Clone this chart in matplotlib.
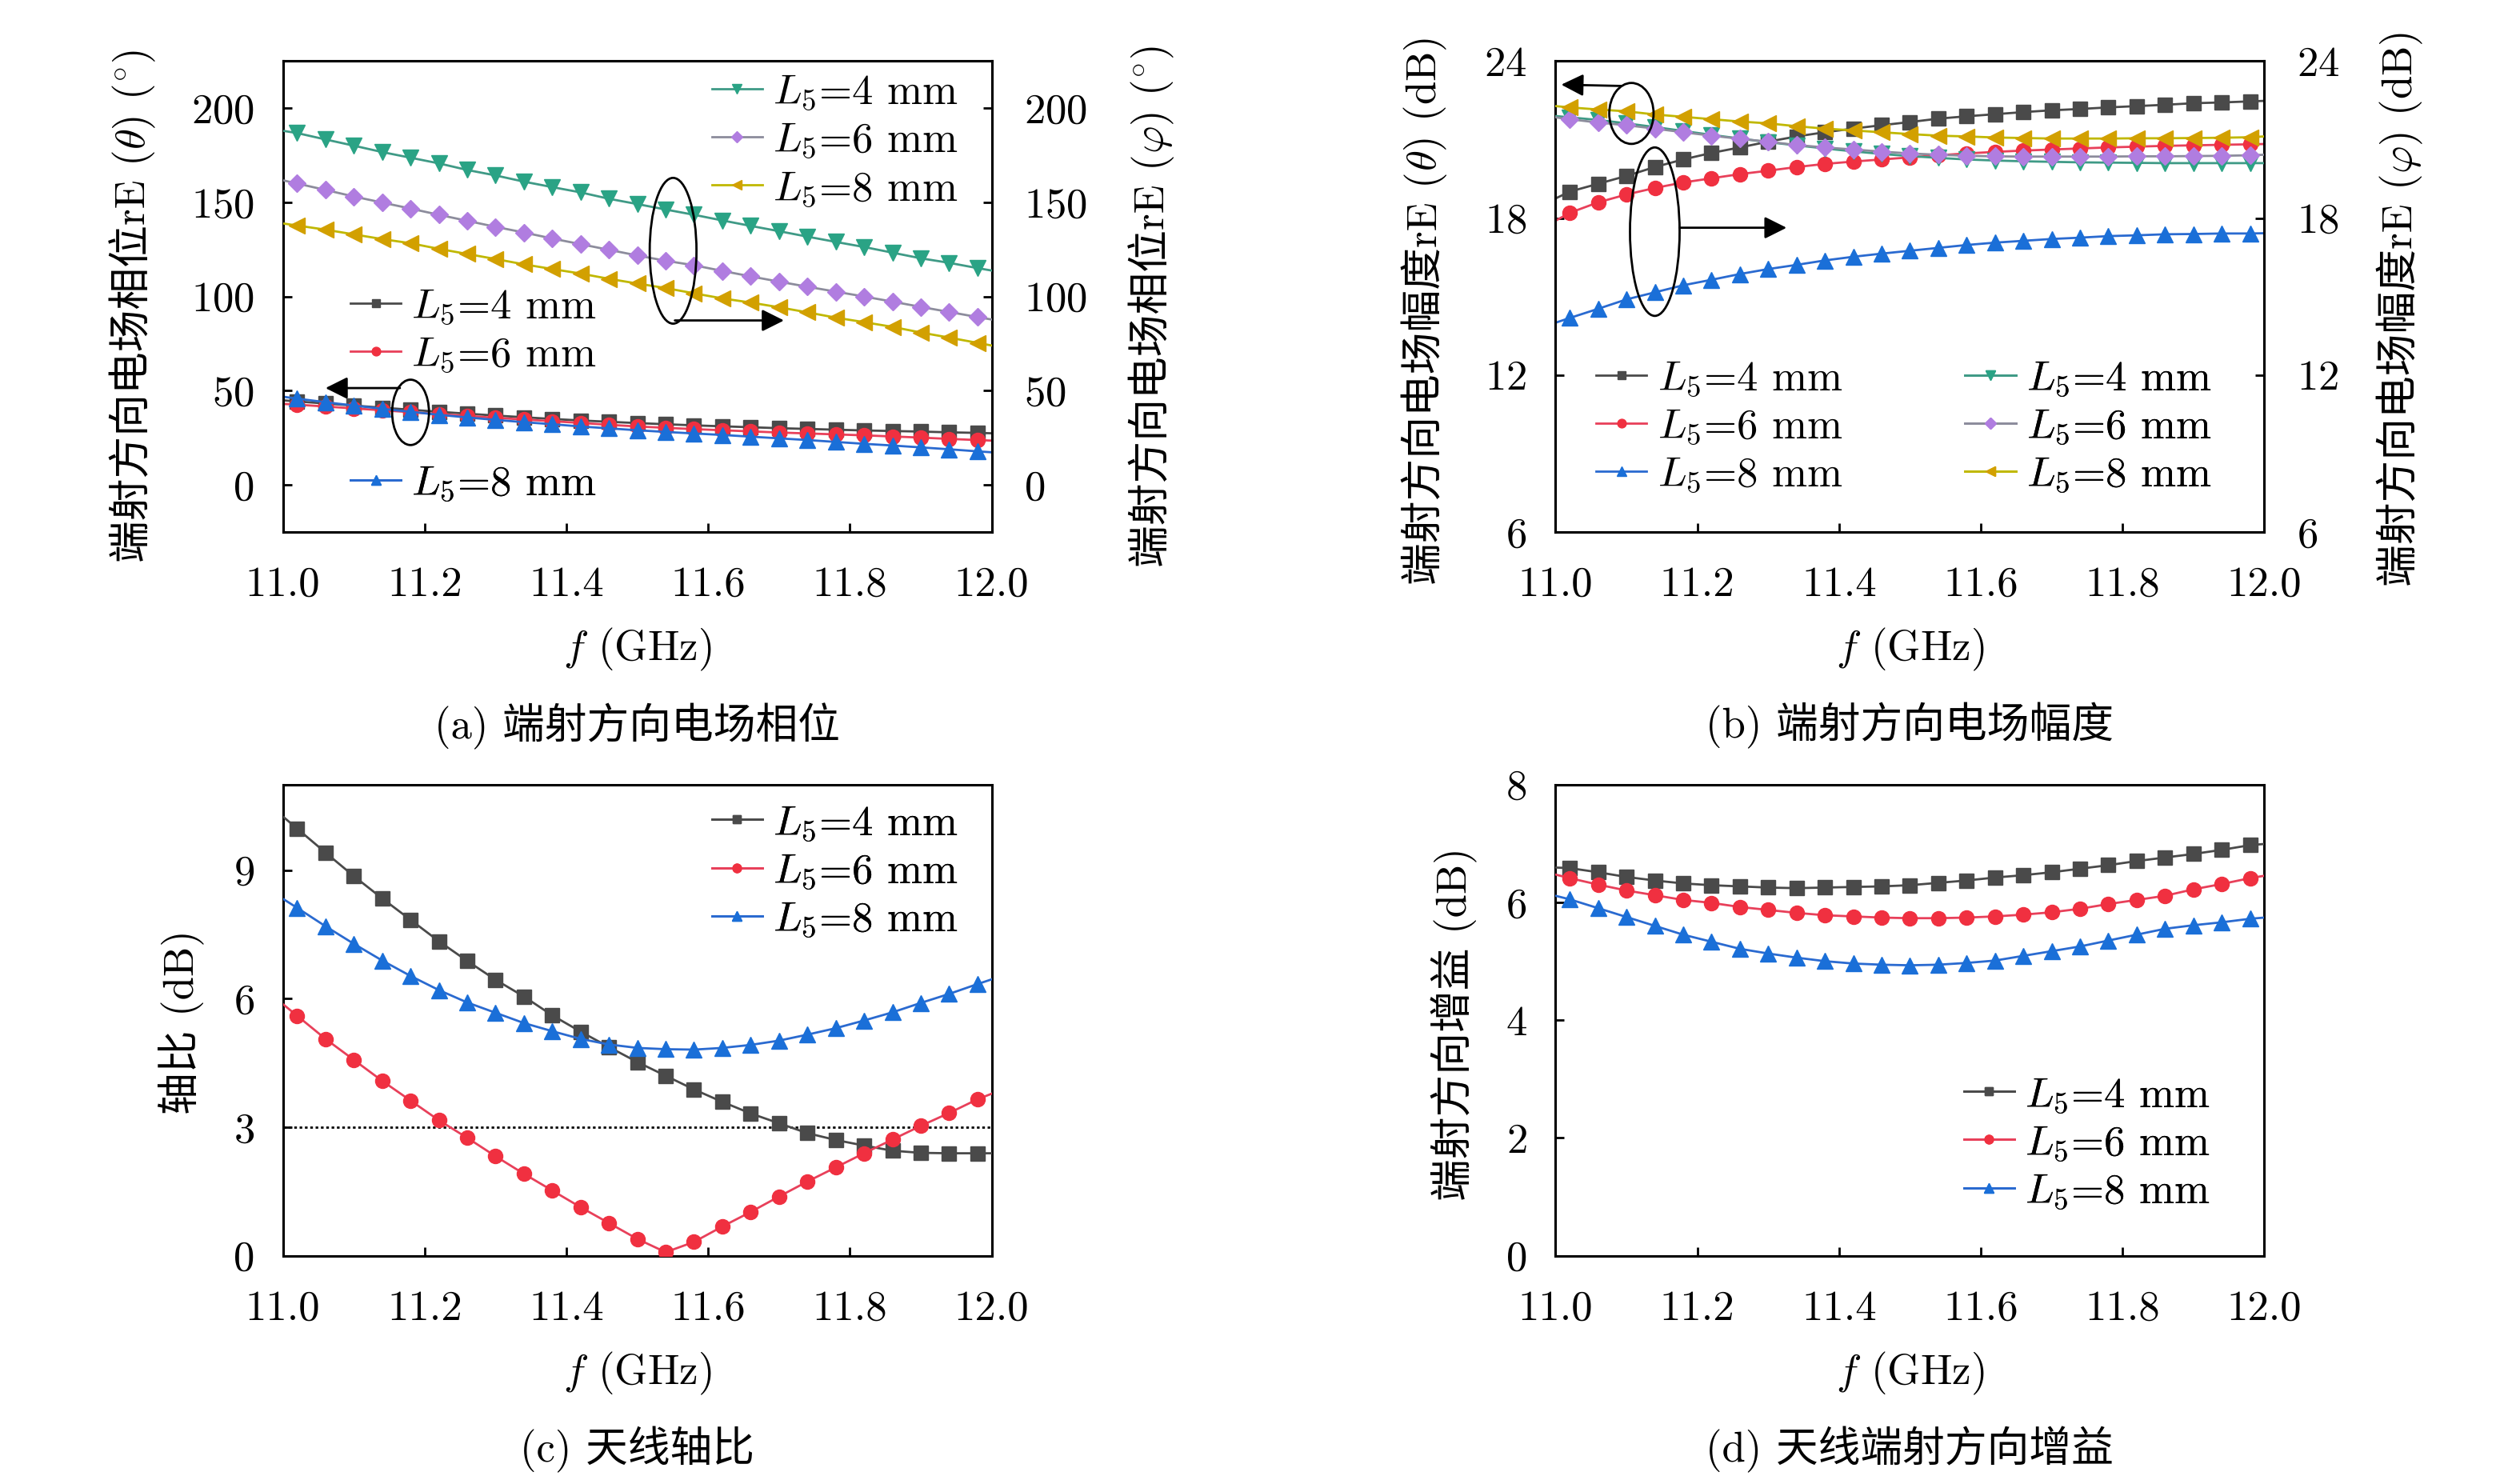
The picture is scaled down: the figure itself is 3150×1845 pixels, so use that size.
"""Endfire field phase / amplitude, axial ratio and gain vs frequency for L5 = 4, 6, 8 mm."""
import matplotlib
matplotlib.use("Agg")
import matplotlib.pyplot as plt
from matplotlib.patches import Ellipse
from matplotlib.ticker import FormatStrFormatter, MultipleLocator

plt.rcParams['font.family'] = ['cmr10', 'Noto Sans CJK SC', 'DejaVu Sans']
plt.rcParams['mathtext.fontset'] = 'cm'
plt.rcParams['axes.formatter.use_mathtext'] = True
plt.rcParams['axes.unicode_minus'] = False

# frequency points (GHz): band edges + sampled points
freq = [11.00, 11.02, 11.06, 11.10, 11.14, 11.18, 11.22, 11.26, 11.30, 11.34,
        11.38, 11.42, 11.46, 11.50, 11.54, 11.58, 11.62, 11.66, 11.70, 11.74,
        11.78, 11.82, 11.86, 11.90, 11.94, 11.98, 12.00]

labels = [r'$L_5$=4 mm', r'$L_5$=6 mm', r'$L_5$=8 mm']

# (a) phase, theta component (left axis)
phase_t_4 = [44.9, 44.3, 43.2, 42.1, 41.0, 39.9, 38.8, 37.8, 36.8, 35.9, 35.0, 34.2, 33.5, 32.8,
             32.2, 31.6, 31.1, 30.6, 30.1, 29.7, 29.3, 28.9, 28.6, 28.3, 27.9, 27.6, 27.4]
phase_t_6 = [43.0, 42.6, 41.6, 40.6, 39.6, 38.6, 37.6, 36.6, 35.6, 34.7, 33.8, 32.9, 31.9, 31.0,
             30.3, 29.6, 29.0, 28.4, 27.8, 27.3, 26.8, 26.3, 25.7, 25.1, 24.4, 23.8, 23.5]
phase_t_8 = [46.8, 45.8, 43.9, 42.1, 40.4, 38.8, 37.2, 35.8, 34.5, 33.3, 32.2, 31.0, 30.0, 29.0,
             28.1, 27.3, 26.5, 25.6, 24.7, 23.8, 22.8, 21.8, 20.9, 19.9, 18.9, 17.8, 17.3]
# (a) phase, phi component (right axis)
phase_p_4 = [188.0, 186.8, 183.4, 180.1, 176.7, 173.7, 170.7, 167.2, 164.3, 161.0, 158.1, 155.3,
             151.9, 149.1, 146.2, 143.4, 140.4, 137.5, 134.7, 131.8, 129.0, 126.3, 123.3, 120.3,
             117.9, 115.1, 113.8]
phase_p_6 = [161.7, 160.0, 156.6, 153.1, 149.9, 146.7, 143.4, 140.2, 137.0, 134.0, 130.8, 127.8,
             124.8, 121.8, 119.0, 116.6, 113.6, 110.7, 107.9, 105.2, 102.6, 100.0, 97.3, 94.5,
             91.8, 89.1, 87.8]
phase_p_8 = [138.8, 137.7, 135.5, 133.0, 130.5, 128.3, 125.3, 122.6, 119.9, 117.1, 114.6, 112.2,
             109.4, 106.9, 104.5, 101.7, 99.0, 96.8, 94.3, 91.6, 88.8, 86.4, 83.9, 80.9,
             78.2, 75.4, 74.0]

# (b) amplitude (dB)
amp_t_4 = [18.75, 19.01, 19.31, 19.61, 19.95, 20.24, 20.49, 20.70, 20.92, 21.12, 21.28, 21.42, 21.55,
           21.67, 21.80, 21.89, 21.97, 22.05, 22.12, 22.17, 22.23, 22.28, 22.33, 22.39, 22.42, 22.46, 22.48]
amp_t_6 = [17.90, 18.20, 18.60, 18.90, 19.15, 19.36, 19.52, 19.68, 19.81, 19.95, 20.07, 20.16, 20.24,
           20.32, 20.40, 20.47, 20.53, 20.58, 20.62, 20.66, 20.70, 20.73, 20.76, 20.78, 20.80, 20.82, 20.83]
amp_t_8 = [14.00, 14.18, 14.53, 14.89, 15.16, 15.43, 15.64, 15.86, 16.05, 16.21, 16.38, 16.52, 16.64,
           16.75, 16.86, 16.97, 17.06, 17.13, 17.20, 17.25, 17.31, 17.34, 17.38, 17.39, 17.41, 17.41, 17.42]
amp_p_4 = [21.90, 21.85, 21.75, 21.62, 21.48, 21.33, 21.18, 21.04, 20.90, 20.78, 20.66, 20.55, 20.45,
           20.37, 20.30, 20.24, 20.20, 20.17, 20.15, 20.13, 20.12, 20.11, 20.10, 20.10, 20.10, 20.10, 20.10]
amp_p_6 = [21.85, 21.78, 21.65, 21.55, 21.42, 21.28, 21.15, 21.03, 20.92, 20.79, 20.70, 20.62, 20.54,
           20.47, 20.42, 20.38, 20.36, 20.35, 20.35, 20.35, 20.35, 20.36, 20.36, 20.37, 20.38, 20.40, 20.42]
amp_p_8 = [22.28, 22.23, 22.15, 22.08, 21.96, 21.87, 21.78, 21.69, 21.62, 21.51, 21.42, 21.35, 21.28,
           21.21, 21.15, 21.12, 21.08, 21.06, 21.04, 21.04, 21.04, 21.05, 21.05, 21.06, 21.07, 21.09, 21.12]

# (c) axial ratio (dB)
ar_4 = [10.25, 9.97, 9.41, 8.86, 8.34, 7.84, 7.34, 6.88, 6.44, 6.05, 5.61, 5.23, 4.87, 4.52,
        4.20, 3.88, 3.59, 3.32, 3.09, 2.86, 2.70, 2.57, 2.45, 2.40, 2.39, 2.39, 2.39]
ar_6 = [5.87, 5.60, 5.06, 4.57, 4.08, 3.62, 3.16, 2.75, 2.32, 1.91, 1.52, 1.13, 0.76, 0.39,
        0.08, 0.32, 0.68, 1.02, 1.38, 1.73, 2.06, 2.39, 2.71, 3.03, 3.33, 3.65, 3.78]
ar_8 = [8.33, 8.12, 7.69, 7.28, 6.89, 6.53, 6.20, 5.91, 5.67, 5.43, 5.24, 5.06, 4.93, 4.85,
        4.82, 4.81, 4.85, 4.92, 5.02, 5.16, 5.31, 5.49, 5.68, 5.90, 6.11, 6.34, 6.45]

# (d) endfire gain (dB)
gain_4 = [6.59, 6.58, 6.51, 6.43, 6.37, 6.32, 6.29, 6.27, 6.25, 6.24, 6.25, 6.26, 6.27, 6.29,
          6.33, 6.37, 6.42, 6.46, 6.51, 6.57, 6.63, 6.70, 6.76, 6.82, 6.89, 6.97, 6.99]
gain_6 = [6.47, 6.41, 6.30, 6.20, 6.12, 6.04, 5.99, 5.92, 5.87, 5.82, 5.78, 5.76, 5.74, 5.73,
          5.73, 5.74, 5.76, 5.79, 5.83, 5.89, 5.97, 6.04, 6.11, 6.22, 6.31, 6.41, 6.45]
gain_8 = [6.11, 6.05, 5.90, 5.75, 5.60, 5.45, 5.33, 5.21, 5.13, 5.06, 5.00, 4.96, 4.94, 4.93,
          4.94, 4.97, 5.01, 5.09, 5.17, 5.25, 5.35, 5.45, 5.55, 5.61, 5.66, 5.72, 5.74]

# styles: (line colour, marker colour, marker)
STY_T = [('#4a4a4a', '#4a4a4a', 's'), ('#e8405a', '#f03040', 'o'), ('#2a6ad0', '#1a6fd8', '^')]
STY_P = [('#3f9a86', '#2aa385', 'v'), ('#8c8c9c', '#b07de0', 'D'), ('#c0b800', '#d2a000', '<')]
MS = {'s': 13, 'o': 13, '^': 14.5, 'v': 14.5, 'D': 11.5, '<': 14.5}

FS = 38
LW = 2.0


def curve(ax, y, sty, label):
    lc, mc, mk = sty
    return ax.plot(freq, y, color=lc, lw=LW, marker=mk, ms=MS[mk], mfc=mc, mec=mc,
                   markevery=slice(1, len(freq) - 1), label=label, zorder=3)[0]


def style_axis(ax):
    ax.set_xlim(11.0, 12.0)
    ax.xaxis.set_major_locator(MultipleLocator(0.2))
    ax.xaxis.set_major_formatter(FormatStrFormatter('%.1f'))
    for s in ax.spines.values():
        s.set_linewidth(2.2)
    ax.tick_params(axis='x', direction='in', length=8, width=2, labelsize=FS, pad=31, top=False)
    ax.tick_params(axis='y', direction='in', length=8, width=2, labelsize=FS, pad=26,
                   right=False)
    ax.set_facecolor('none')


def right_ticks(ax):
    ax.tick_params(axis='y', right=True, labelright=True, left=False, labelleft=False, pad=29)


def legend(ax, handles, x, y):
    lg = ax.legend(handles=handles, loc='upper left', bbox_to_anchor=(x, y), frameon=False,
                   fontsize=FS, handlelength=1.2, handletextpad=0.25, labelspacing=0.22,
                   borderpad=0, borderaxespad=0, markerscale=0.6)
    ax.add_artist(lg)
    return lg


def vlabel(ax, pieces, x, y):
    """Vertical label built from pieces (plain CJK text and mathtext) stacked upwards."""
    prev = None
    for txt in pieces:
        kw = dict(rotation=90, rotation_mode='anchor', ha='left', va='baseline', fontsize=FS)
        if prev is None:
            prev = ax.text(x, y, txt, transform=ax.transAxes, clip_on=False, **kw)
        else:
            prev = ax.annotate(txt, xy=(x, 1.0), xycoords=(ax.transAxes, prev),
                               annotation_clip=False, **kw)


def caption(ax, text):
    ax.text(0.5, -0.412, text, transform=ax.transAxes, ha='center', va='center', fontsize=FS)


def xlabel(ax):
    ax.set_xlabel(r'$f$ (GHz)', fontsize=FS)
    ax.xaxis.set_label_coords(0.5, -0.25)
    ax.xaxis.label.set_va('center')


def arrow(ax, tip, tail):
    ax.annotate('', xy=tip, xytext=tail,
                arrowprops=dict(arrowstyle='-|>', lw=2, color='k', mutation_scale=42,
                                shrinkA=0, shrinkB=0), zorder=5)


fig = plt.figure(figsize=(31.5, 18.45), dpi=100)
fig.patch.set_facecolor('white')

# ---------------- (a) ----------------
ax_a = fig.add_axes([0.1123, 0.6396, 0.2812, 0.3190])
ax_a2 = ax_a.twinx()
style_axis(ax_a)
style_axis(ax_a2)
for a in (ax_a, ax_a2):
    a.set_ylim(-25, 225)
    a.yaxis.set_major_locator(MultipleLocator(50))
right_ticks(ax_a2)
h_t = [curve(ax_a, y, s, l) for y, s, l in zip([phase_t_4, phase_t_6, phase_t_8], STY_T, labels)]
h_p = [curve(ax_a2, y, s, l) for y, s, l in zip([phase_p_4, phase_p_6, phase_p_8], STY_P, labels)]
legend(ax_a2, h_p, 0.605, 0.974)
legend(ax_a2, h_t[:2], 0.095, 0.519)
legend(ax_a2, h_t[2:], 0.095, 0.143)
ax_a2.add_patch(Ellipse((11.5505, 124.3), 0.066, 77.4, fill=False, lw=2, ec='k', zorder=5))
arrow(ax_a2, (11.707, 87.3), (11.553, 87.3))
ax_a2.add_patch(Ellipse((11.18, 38.5), 0.052, 34.7, fill=False, lw=2, ec='k', zorder=5))
arrow(ax_a2, (11.06, 51.4), (11.165, 51.4))
vlabel(ax_a2, ['端射方向电场相位rE (', r'$\theta$) ($^{\circ}$)'], -0.195, -0.065)
vlabel(ax_a2, ['端射方向电场相位rE (', r'$\varphi$) ($^{\circ}$)'], 1.243, -0.075)
xlabel(ax_a)
caption(ax_a, '(a) 端射方向电场相位')

# ---------------- (b) ----------------
ax_b = fig.add_axes([0.6173, 0.6396, 0.2812, 0.3190])
ax_b2 = ax_b.twinx()
style_axis(ax_b)
style_axis(ax_b2)
for a in (ax_b, ax_b2):
    a.set_ylim(6, 24)
    a.yaxis.set_major_locator(MultipleLocator(6))
right_ticks(ax_b2)
h_t = [curve(ax_b, y, s, l) for y, s, l in zip([amp_t_4, amp_t_6, amp_t_8], STY_T, labels)]
h_p = [curve(ax_b2, y, s, l) for y, s, l in zip([amp_p_4, amp_p_6, amp_p_8], STY_P, labels)]
legend(ax_b2, h_t, 0.057, 0.366)
legend(ax_b2, h_p, 0.578, 0.366)
ax_b2.add_patch(Ellipse((11.107, 22.0), 0.0625, 2.33, fill=False, lw=2, ec='k', zorder=5))
arrow(ax_b2, (11.008, 23.1), (11.093, 23.05))
ax_b2.add_patch(Ellipse((11.14, 17.48), 0.07, 6.44, fill=False, lw=2, ec='k', zorder=5))
arrow(ax_b2, (11.326, 17.63), (11.175, 17.63))
vlabel(ax_b2, ['端射方向电场幅度rE (', r'$\theta$) (dB)'], -0.168, -0.112)
vlabel(ax_b2, ['端射方向电场幅度rE (', r'$\varphi$) (dB)'], 1.209, -0.116)
xlabel(ax_b)
caption(ax_b, '(b) 端射方向电场幅度')

# ---------------- (c) ----------------
ax_c = fig.add_axes([0.1123, 0.1493, 0.2812, 0.3192])
style_axis(ax_c)
ax_c.set_ylim(0, 11)
ax_c.yaxis.set_major_locator(MultipleLocator(3))
h = [curve(ax_c, y, s, l) for y, s, l in zip([ar_4, ar_6, ar_8], STY_T, labels)]
ax_c.axhline(3, color='k', ls=(0, (1.2, 1.2)), lw=2, zorder=2)
legend(ax_c, h, 0.605, 0.958)
vlabel(ax_c, ['轴比 (dB)'], -0.127, 0.30)
xlabel(ax_c)
caption(ax_c, '(c) 天线轴比')

# ---------------- (d) ----------------
ax_d = fig.add_axes([0.6173, 0.1493, 0.2812, 0.3192])
style_axis(ax_d)
ax_d.set_ylim(0, 8)
ax_d.yaxis.set_major_locator(MultipleLocator(2))
h = [curve(ax_d, y, s, l) for y, s, l in zip([gain_4, gain_6, gain_8], STY_T, labels)]
legend(ax_d, h, 0.576, 0.381)
vlabel(ax_d, ['端射方向增益 (dB)'], -0.125, 0.116)
xlabel(ax_d)
caption(ax_d, '(d) 天线端射方向增益')

fig.savefig('out.png', dpi=100, facecolor='white')
